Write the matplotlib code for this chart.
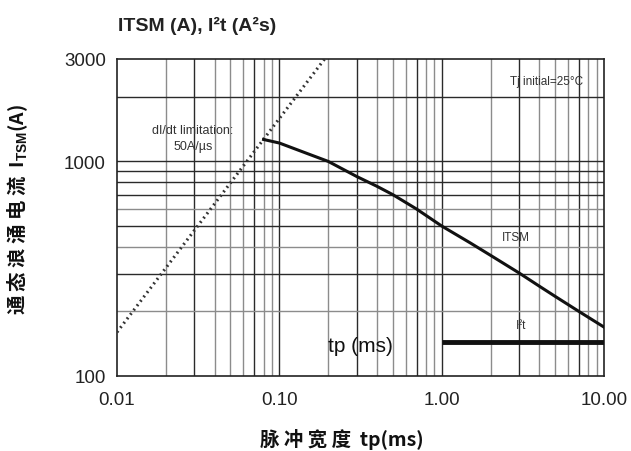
import numpy as np
import matplotlib
matplotlib.use("Agg")
import matplotlib.pyplot as plt
from matplotlib.ticker import FixedLocator, NullFormatter

plt.rcParams['mathtext.fontset'] = 'custom'
plt.rcParams['mathtext.rm'] = 'Liberation Sans'
plt.rcParams['mathtext.bf'] = 'Liberation Sans:bold'

# data
tp_itsm = [0.08, 0.09, 0.1, 0.15, 0.2, 0.3, 0.4, 0.5, 0.7, 1, 1.5, 2, 3, 4, 5, 7, 10]
itsm = [1265, 1240, 1218, 1085, 1000, 850, 765, 700, 600, 500, 417, 365, 302, 262, 235, 200, 169]

tp_i2t = [1, 10]
i2t = [144, 144]

tp_didt = [0.01, 0.19]
i_didt = [160, 3000]

xticks = [0.01, 0.1, 1, 10]
xlabels = ["0.01", "0.10", "1.00", "10.00"]
yticks = [100, 1000, 3000]
ylabels = ["100", "1000", "3000"]

narrow = ['Liberation Sans Narrow', 'Liberation Sans', 'DejaVu Sans']
cjk = ['Noto Sans CJK SC', 'DejaVu Sans']

fig = plt.figure(figsize=(6.31, 4.52), dpi=100)
ax = fig.add_axes([117/631, 1-377/452, (604-117)/631, (377-60)/452])
ax.set_xscale('log')
ax.set_yscale('log')
ax.set_xlim(0.01, 10)
ax.set_ylim(100, 3000)

# grid
dark = '#2a2a2a'
grey = '#8c8c8c'
for dec in [0.01, 0.1, 1]:
    for m in range(2, 10):
        c = dark if m in (3, 7) else grey
        ax.axvline(dec*m, color=c, lw=1.0, zorder=1)
    if dec > 0.01:
        ax.axvline(dec, color=dark, lw=1.0, zorder=1)
for v in [200, 300, 400, 500, 600, 700, 800, 900, 1000, 2000]:
    c = grey if v in (200, 400, 600) else dark
    ax.axhline(v, color=c, lw=1.0, zorder=1)

ax.plot(tp_didt, i_didt, color='#333333', lw=2.2, ls=(0, (0.6, 1.2)), zorder=3)
ax.plot(tp_itsm, itsm, color='#111111', lw=2.2, zorder=3)
ax.plot(tp_i2t, i2t, color='#111111', lw=3.5, solid_capstyle='butt', zorder=3)

ax.xaxis.set_major_locator(FixedLocator(xticks))
ax.xaxis.set_minor_formatter(NullFormatter())
ax.set_xticklabels(xlabels, fontsize=13.5, family=narrow[1:], color='#222222')
ax.yaxis.set_major_locator(FixedLocator(yticks))
ax.yaxis.set_minor_formatter(NullFormatter())
ax.set_yticklabels(ylabels, fontsize=13.5, family=narrow[1:], color='#222222')
ax.tick_params(which='both', length=0)
ax.tick_params(axis='x', pad=11)
ax.tick_params(axis='y', pad=8)
for s in ax.spines.values():
    s.set_color('#222222')
    s.set_linewidth(1.2)

# annotations
ax.text(0.0294, 1400, "dI/dt limitation:", fontsize=9, family=narrow, ha='center', va='center', color='#333333')
ax.text(0.0294, 1180, "50A/µs", fontsize=9, family=narrow, ha='center', va='center', color='#333333')
ax.text(4.45, 2370, "Tj initial=25°C", fontsize=8.5, family=narrow, ha='center', va='center', color='#333333')
ax.text(2.86, 444, "ITSM", fontsize=8.5, family=narrow, ha='center', va='center', color='#333333')
ax.text(3.1, 173, "I²t", fontsize=8.5, family=narrow, ha='center', va='center', color='#333333')
ax.text(0.316, 138, "tp (ms)", fontsize=15, family=narrow, ha='center', va='center', color='#111111')

fig.text(118/631, 1-26/452, "ITSM (A), I²t (A²s)", fontsize=14, family=narrow, fontweight='bold',
         ha='left', va='center', color='#222222')
fig.text(342/631, 1-440/452, "脉 冲 宽 度  tp(ms)", fontsize=14, family=cjk, fontweight='bold',
         ha='center', va='center', color='#111111')
fig.text(18/631, 1-209/452, r"通 态 浪 涌 电 流  I$_{\mathbf{TSM}}$(A)", fontsize=14, family=cjk,
         fontweight='bold', rotation=90, ha='center', va='center', color='#111111')

fig.savefig("out.png", dpi=100)
